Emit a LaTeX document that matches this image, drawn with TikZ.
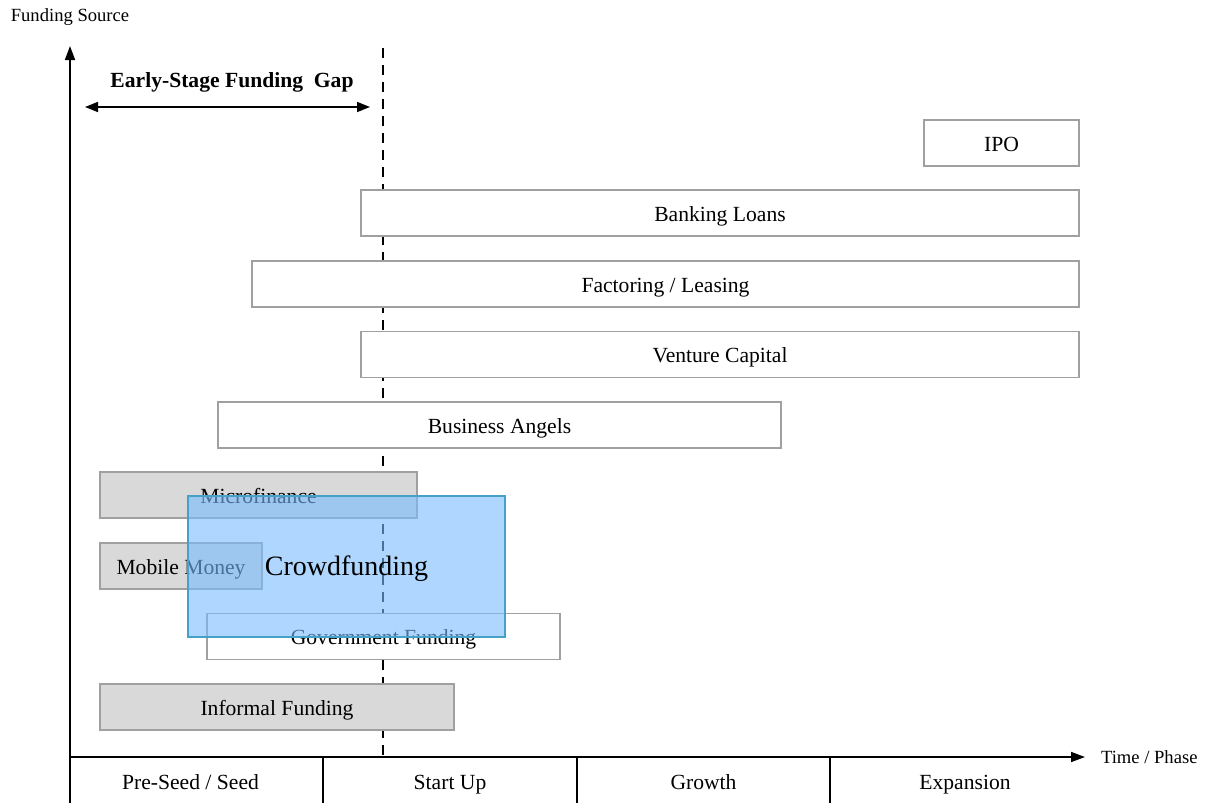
\documentclass[tikz,border=0pt]{standalone}
\usepackage{fontspec}
\setmainfont{Liberation Serif}
\usetikzlibrary{arrows.meta, positioning}

\definecolor{boxline}{RGB}{160,160,160}
\definecolor{informal}{RGB}{217,217,217}
\definecolor{crowd}{RGB}{120,187,255}
\definecolor{crowdline}{RGB}{70,160,200}

\begin{document}
\begin{tikzpicture}[x=0.5pt, y=-0.5pt,
    axis/.style={-{Triangle[length=7pt,width=5pt]}, line width=0.8pt},
    gapline/.style={{Triangle[length=6.5pt,width=5pt]}-{Triangle[length=6.5pt,width=5pt]}, line width=0.8pt},
    phase/.style={font=\fontsize{10.8}{13}\selectfont, text height=2.05ex, text depth=0.3ex},
    axislabel/.style={font=\fontsize{9.3}{11}\selectfont},
    bar/.style={rectangle, draw=boxline, line width=0.6pt, fill=white, minimum height=23pt, inner sep=0pt,
        text height=2.05ex, text depth=0.3ex, font=\fontsize{10.8}{13}\selectfont},
    greybar/.style={bar, fill=informal}]

    \useasboundingbox (0,0) rectangle (1208,803);

    % Axes
    \coordinate (origin) at (70,757);
    \coordinate (ytop) at (70,46);
    \coordinate (ybot) at (70,803);
    \coordinate (xend) at (1085,757);

    \draw[axis] (ybot) -- (ytop);
    \draw[axis] (origin) -- (xend);

    \node[axislabel] (ysrc) at (70,17) {Funding Source};
    \node[axislabel, anchor=west] (xtime) at (1094,757) {Time / Phase};

    % Phases
    \draw[line width=0.8pt] (323,757) -- (323,803);
    \draw[line width=0.8pt] (577,757) -- (577,803);
    \draw[line width=0.8pt] (830,757) -- (830,803);

    \node[phase] (seed) at (190.5,781) {Pre-Seed / Seed};
    \node[phase] (startup) at (450,781) {Start Up};
    \node[phase] (growth) at (703.5,781) {Growth};
    \node[phase] (expansion) at (965,781) {Expansion};

    % Funding gap
    \coordinate (gaptop) at (383,48);
    \coordinate (gapbot) at (383,757);
    \draw[line width=0.6pt, dash pattern=on 5pt off 3.5pt] (gaptop) -- (gapbot);

    \coordinate (gapleft) at (85,107);
    \coordinate (gapright) at (370,107);
    \draw[gapline] (gapleft) -- (gapright);
    \node[font=\fontsize{10.8}{13}\selectfont\bfseries] (gaplabel) at (232,82) {Early-Stage Funding\ \ Gap};

    % Funding sources
    \node[bar, minimum width=77.5pt] (ipo) at (1001.5,143) {IPO};
    \node[bar, minimum width=359pt] (bank) at (720,213) {Banking Loans};
    \node[bar, minimum width=413.5pt] (factor) at (665.5,284) {Factoring / Leasing};
    \node[bar, minimum width=359pt] (vc) at (720,354.5) {Venture Capital};
    \node[bar, minimum width=281.5pt] (angels) at (499.5,425) {Business Angels};
    \node[greybar, minimum width=158.5pt] (micro) at (258.5,495) {Microfinance};
    \node[greybar, minimum width=81pt] (mobile) at (181,566) {Mobile Money};
    \node[bar, minimum width=176.5pt] (gov) at (383.5,636.5) {Government Funding};
    \node[greybar, minimum width=177pt] (informal) at (277,707) {Informal Funding};

    % Crowdfunding on top
    \node[rectangle, draw=crowdline, line width=0.6pt, fill=crowd, fill opacity=0.6, text opacity=1,
        minimum width=158.5pt, minimum height=70.5pt, inner sep=0pt, text height=2.2ex, text depth=0.3ex,
        font=\fontsize{14}{16}\selectfont] (crowd) at (346.5,566.5) {Crowdfunding};

\end{tikzpicture}
\end{document}
